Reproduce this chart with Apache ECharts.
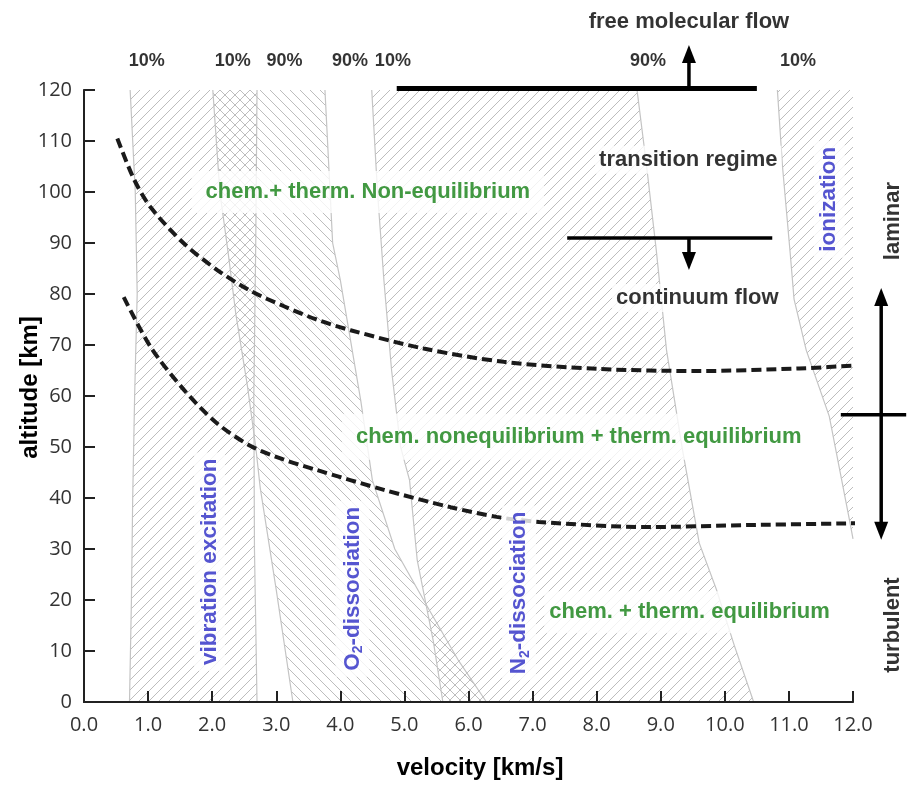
<!DOCTYPE html>
<html>
<head>
<meta charset="utf-8">
<script src="https://cdn.jsdelivr.net/npm/echarts@6/dist/echarts.min.js"></script>
<style>
  html, body { margin: 0; padding: 0; background: #fff; }
  #chart { width: 907px; height: 789px; }
</style>
</head>
<body>
<div id="chart"></div>
<script>
// axis ticks
const velocityTicks = [0, 1, 2, 3, 4, 5, 6, 7, 8, 9, 10, 11, 12];
const altitudeTicks = [0, 10, 20, 30, 40, 50, 60, 70, 80, 90, 100, 110, 120];

// dashed regime borders [velocity km/s, altitude km]
const upperCurve = [[0.52, 110.5], [0.78, 102.5], [1.04, 97], [1.56, 89.9], [2.08, 84.7], [2.6, 80.6],
  [3.12, 77.6], [3.63, 75.0], [4.16, 72.9], [5.3, 69.3], [6.55, 66.7], [8.04, 65.3], [9.6, 64.9],
  [11.16, 65.4], [12.2, 66.1]];
const lowerCurve = [[0.62, 79.4], [1.04, 69.6], [1.56, 61.2], [2.07, 54.7], [2.6, 50.2], [3.1, 47.6],
  [3.63, 45.5], [4.68, 41.6], [5.72, 38.2], [6.44, 36.3], [7.1, 35.3], [8.82, 34.3], [10.38, 34.7], [12.3, 35.1]];

// hatched bands: 10% edge and 90% edge
const vibLeft = [[0.72, 120], [0.8, 100], [0.83, 80], [0.79, 60], [0.76, 40], [0.74, 20], [0.71, 0]];
const vibRight = [[2.7, 120], [2.68, 90], [2.65, 60], [2.66, 30], [2.7, 0]];
const o2Left = [[2.01, 120], [2.12, 100], [2.25, 88], [2.37, 76], [2.55, 62], [2.68, 50], [2.75, 42], [3.0, 22], [3.26, 0]];
const o2Right = [[3.76, 120], [3.88, 90], [4.0, 82.7], [4.32, 59], [4.5, 43.5], [4.85, 30], [5.39, 18], [5.85, 8], [6.28, 0]];
const n2Left = [[4.49, 120], [4.58, 100], [4.68, 82.7], [4.8, 65], [4.94, 50], [5.08, 43.5], [5.2, 27.8], [5.45, 12], [5.6, 0]];
const n2Right = [[8.63, 120], [8.78, 105], [8.93, 88.6], [9.09, 69], [9.34, 49.4], [9.6, 31.2], [9.87, 22], [10.15, 11], [10.45, 0]];
const ionLeft = [[10.82, 120], [10.9, 105], [11.02, 88], [11.08, 79], [11.27, 69], [11.63, 56], [11.94, 36], [12, 32]];
const ionRight = [[12, 120], [12, 32]];

const FONT = '"Liberation Sans", Arial, sans-serif';
const GREEN = '#138013', BLUE = '#2b2bc4';

function hatch(dir) {
  const c = document.createElement('canvas');
  c.width = 10; c.height = 10;
  const ctx = c.getContext('2d');
  ctx.strokeStyle = '#bdbdbd';
  ctx.lineWidth = 1;
  ctx.beginPath();
  if (dir === '/') {
    ctx.moveTo(0, 10); ctx.lineTo(10, 0);
    ctx.moveTo(-5, 5); ctx.lineTo(5, -5);
    ctx.moveTo(5, 15); ctx.lineTo(15, 5);
  } else {
    ctx.moveTo(0, 0); ctx.lineTo(10, 10);
    ctx.moveTo(-5, 5); ctx.lineTo(5, 15);
    ctx.moveTo(5, -5); ctx.lineTo(15, 5);
  }
  ctx.stroke();
  return {type: 'pattern', image: c, repeat: 'repeat'};
}
const fwd = hatch('/'), back = hatch('\\');

const bands = [
  {left: vibLeft, right: vibRight, fill: fwd},
  {left: o2Left, right: o2Right, fill: back},
  {left: n2Left, right: n2Right, fill: fwd},
  {left: ionLeft, right: ionRight, fill: fwd, noRightEdge: true}
];

function renderBand(params, api) {
  const b = bands[api.value(0)];
  const l = b.left.map(p => api.coord(p));
  const r = b.right.map(p => api.coord(p));
  const children = [
    {type: 'polygon', shape: {points: l.concat(r.slice().reverse())}, style: {fill: b.fill}},
    {type: 'polyline', shape: {points: l}, style: {stroke: '#c4c4c4', lineWidth: 1.2, fill: null}}
  ];
  if (!b.noRightEdge) {
    children.push({type: 'polyline', shape: {points: r}, style: {stroke: '#c4c4c4', lineWidth: 1.2, fill: null}});
  }
  return {type: 'group', children: children};
}

// flow regime markers
const guides = [
  {from: [4.88, 120.3], to: [10.5, 120.3], width: 5},
  {from: [9.44, 120], to: [9.44, 128.8], width: 3.5, head: true},
  {from: [7.54, 91], to: [10.74, 91], width: 3.5},
  {from: [9.44, 91], to: [9.44, 84.7], width: 3.5, head: true},
  {from: [12.44, 56.3], to: [12.44, 81.2], width: 3.5, head: true},
  {from: [12.44, 56.3], to: [12.44, 31.8], width: 3.5, head: true},
  {from: [11.81, 56.3], to: [12.83, 56.3], width: 3.5}
];

function renderGuide(params, api) {
  const g = guides[api.value(0)];
  const p1 = api.coord(g.from), p2 = api.coord(g.to);
  const children = [];
  let end = p2;
  if (g.head) {
    const dx = p2[0] - p1[0], dy = p2[1] - p1[1];
    const len = Math.hypot(dx, dy);
    const ux = dx / len, uy = dy / len;
    const hl = 18, hw = 7;
    const base = [p2[0] - ux * hl, p2[1] - uy * hl];
    children.push({type: 'polygon', shape: {points: [p2, [base[0] - uy * hw, base[1] + ux * hw], [base[0] + uy * hw, base[1] - ux * hw]]},
      style: {fill: '#000'}});
    end = [base[0] + ux * 2, base[1] + uy * 2];
  }
  children.push({type: 'line', shape: {x1: p1[0], y1: p1[1], x2: end[0], y2: end[1]}, style: {stroke: '#000', lineWidth: g.width}});
  return {type: 'group', children: children};
}

const styles = {
  pct: {fontSize: 18, fontWeight: 'bold', color: '#000', fontFamily: FONT},
  black: {fontSize: 22, fontWeight: 'bold', color: '#000', fontFamily: FONT, backgroundColor: '#fff', padding: [3, 4]},
  plain: {fontSize: 22, fontWeight: 'bold', color: '#000', fontFamily: FONT},
  green: {fontSize: 22, fontWeight: 'bold', color: GREEN, fontFamily: FONT, backgroundColor: '#fff', padding: [10, 14]},
  blue: {fontSize: 22.5, fontWeight: 'bold', color: BLUE, fontFamily: FONT, backgroundColor: '#fff', padding: [4, 6], rotate: 90},
  side: {fontSize: 22, fontWeight: 'bold', color: '#000', fontFamily: FONT, rotate: 90}
};

const notes = [
  {text: '10%', at: [0.98, 125.6], s: 'pct'},
  {text: '10%', at: [2.32, 125.6], s: 'pct'},
  {text: '90%', at: [3.13, 125.6], s: 'pct'},
  {text: '90%', at: [4.15, 125.6], s: 'pct'},
  {text: '10%', at: [4.82, 125.6], s: 'pct'},
  {text: '90%', at: [8.8, 125.6], s: 'pct'},
  {text: '10%', at: [11.14, 125.6], s: 'pct'},
  {text: 'free molecular flow', at: [9.44, 133.3], s: 'plain'},
  {text: 'transition regime', at: [9.43, 106.3], s: 'black'},
  {text: 'continuum flow', at: [9.57, 79.2], s: 'black'},
  {text: 'chem.+ therm. Non-equilibrium', at: [4.43, 100], s: 'green'},
  {text: 'chem. nonequilibrium + therm. equilibrium', at: [7.72, 52], s: 'green', pad: [12, 14]},
  {text: 'chem. + therm. equilibrium', at: [9.66, 17.6], s: 'green', pad: [10, 32, 10, 5]},
  {text: 'vibration excitation', at: [1.96, 27.5], s: 'blue'},
  {text: '{a|O}{s|2}{a|-dissociation}', at: [4.19, 22.2], s: 'blue'},
  {text: '{a|N}{s|2}{a|-dissociation}', at: [6.79, 21.4], s: 'blue'},
  {text: 'ionization', at: [11.63, 98.6], s: 'blue'},
  {text: 'laminar', at: [12.63, 94.3], s: 'side'},
  {text: 'turbulent', at: [12.63, 15.1], s: 'side'}
];

const chart = echarts.init(document.getElementById('chart'));

const labelData = notes.map(n => {
  const lab = Object.assign({show: true, position: 'inside', formatter: n.text}, styles[n.s]);
  if (n.pad) lab.padding = n.pad;
  if (n.text.indexOf('{') === 0) {
    lab.rich = {
      a: {fontSize: 22.5, fontWeight: 'bold', color: BLUE, fontFamily: FONT},
      s: {fontSize: 14, fontWeight: 'bold', color: BLUE, fontFamily: FONT, padding: [12, 0, 0, 0]}
    };
  }
  return {value: n.at, label: lab};
});

const option = {
  animation: false,
  grid: {left: 84, right: 54, top: 90, bottom: 87},
  xAxis: [{
    type: 'value', min: velocityTicks[0], max: velocityTicks[velocityTicks.length - 1], interval: 1,
    z: 3,
    axisLine: {lineStyle: {color: '#222', width: 2}},
    axisTick: {inside: true, length: 11, lineStyle: {color: '#222', width: 2}},
    axisLabel: {margin: 13, fontSize: 20, color: '#333', fontFamily: '"Open Sans", sans-serif', formatter: v => v.toFixed(1)},
    splitLine: {show: false},
    name: 'velocity [km/s]', nameLocation: 'middle', nameGap: 54, nameMoveOverlap: false,
    nameTextStyle: {fontSize: 24, fontWeight: 'bold', color: '#000', fontFamily: FONT, padding: [0, 0, 0, 23]}
  }, {
    type: 'value', position: 'top', min: 0, max: 12, z: 3,
    axisLine: {show: true, lineStyle: {color: '#222', width: 1.5}},
    axisTick: {show: false}, axisLabel: {show: false}, splitLine: {show: false}
  }],
  yAxis: [{
    type: 'value', min: altitudeTicks[0], max: altitudeTicks[altitudeTicks.length - 1], interval: 10,
    z: 3,
    axisLine: {show: true, lineStyle: {color: '#222', width: 2}},
    axisTick: {show: true, inside: true, length: 11, lineStyle: {color: '#222', width: 2}},
    axisLabel: {margin: 12, fontSize: 20, color: '#333', fontFamily: '"Open Sans", sans-serif'},
    splitLine: {show: false},
    name: 'altitude [km]', nameLocation: 'middle', nameGap: 42, nameRotate: 90, nameMoveOverlap: false,
    nameTextStyle: {fontSize: 24, fontWeight: 'bold', color: '#000', fontFamily: FONT, padding: [0, 0, 0, 17]}
  }, {
    type: 'value', position: 'right', min: 0, max: 120, z: 3,
    axisLine: {show: true, lineStyle: {color: '#222', width: 1.5}},
    axisTick: {show: false}, axisLabel: {show: false}, splitLine: {show: false}
  }],
  series: [
    {
      type: 'custom', name: 'bands', z: 1, silent: true, clip: false,
      renderItem: renderBand,
      data: bands.map((b, i) => [i])
    },
    {
      type: 'line', name: 'upper', data: upperCurve, smooth: 0.3, showSymbol: false, symbol: 'none',
      clip: false, z: 4, silent: true,
      lineStyle: {color: '#1a1a1a', width: 4, type: [10, 5]}
    },
    {
      type: 'line', name: 'lower', data: lowerCurve, smooth: 0.3, showSymbol: false, symbol: 'none',
      clip: false, z: 4, silent: true,
      lineStyle: {color: '#1a1a1a', width: 4, type: [10, 5]}
    },
    {
      type: 'custom', name: 'guides', z: 5, silent: true, clip: false,
      renderItem: renderGuide,
      data: guides.map((g, i) => [i])
    },
    {
      type: 'scatter', name: 'notes', z: 6, silent: true, clip: false,
      symbolSize: 0,
      data: labelData
    }
  ]
};
chart.setOption(option);
</script>
</body>
</html>
